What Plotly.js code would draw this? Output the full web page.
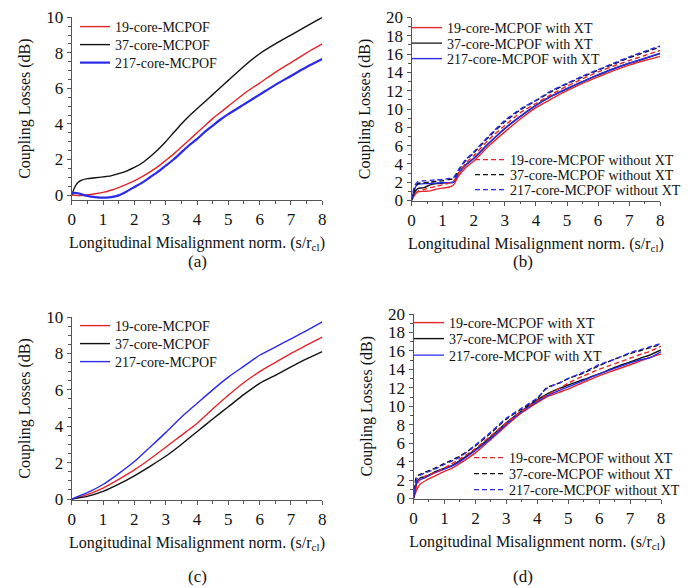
<!DOCTYPE html>
<html>
<head>
<meta charset="utf-8">
<script src="https://cdn.plot.ly/plotly-3.0.1.min.js"></script>
<style>html,body{margin:0;padding:0;background:#fff;}#chart{width:694px;height:588px;}</style>
</head>
<body>
<div id="chart"></div>
<script>
// ---------- Data ----------
// Panel (a)
const xA = [0,0.1,0.2,0.3,0.5,0.75,1,1.25,1.5,1.75,2,2.25,2.5,2.75,3,3.25,3.5,3.75,4,4.25,4.5,4.75,5,5.5,6,6.5,7,7.5,8];
const a19 = [0,-0.01,-0.03,-0.03,0,0.07,0.15,0.27,0.42,0.6,0.8,1.03,1.3,1.6,1.95,2.3,2.7,3.1,3.5,3.9,4.3,4.65,5.0,5.7,6.3,6.9,7.45,8.0,8.5];
const a37 = [0,0.45,0.7,0.82,0.92,0.97,1.02,1.08,1.2,1.35,1.55,1.8,2.15,2.55,3.0,3.5,4.0,4.45,4.85,5.25,5.65,6.05,6.45,7.25,7.95,8.5,9.0,9.5,10.0];
const a217 = [0.1,0.12,0.1,0.05,-0.05,-0.12,-0.15,-0.12,-0.02,0.2,0.45,0.7,1.0,1.3,1.65,2.0,2.4,2.8,3.15,3.55,3.9,4.25,4.55,5.1,5.65,6.2,6.7,7.2,7.65];

// Panel (b)
const xB = [0,0.1,0.2,0.4,0.6,0.8,1.0,1.2,1.35,1.5,1.75,2,2.5,3,3.5,4,4.5,5,5.5,6,6.5,7,7.5,8];
const b19xt = [0,0.6,0.95,1.0,1.05,1.25,1.35,1.45,1.7,2.6,3.6,4.3,6.0,7.5,8.9,10.15,11.1,12.0,12.8,13.5,14.2,14.8,15.3,15.75];
const b37xt = [0,0.9,1.3,1.4,1.7,1.85,1.9,1.95,2.0,2.9,3.9,4.6,6.3,7.85,9.2,10.4,11.4,12.2,13.0,13.7,14.4,15.0,15.5,16.05];
const b217xt = [0,1.3,1.75,1.85,1.85,1.9,1.95,1.95,2.0,2.9,3.9,4.6,6.3,7.9,9.2,10.4,11.4,12.25,13.0,13.75,14.4,15.0,15.55,16.1];
const b19 = [0,0.7,1.0,1.2,1.4,1.55,1.7,1.9,2.1,2.9,4.1,4.9,6.7,8.2,9.6,10.6,11.6,12.5,13.3,14.05,14.7,15.3,15.85,16.4];
const b37 = [0,1.2,1.85,1.95,2.0,2.1,2.15,2.3,2.4,3.2,4.4,5.2,7.0,8.6,9.9,10.9,11.9,12.75,13.5,14.25,14.9,15.6,16.2,16.8];
const b217 = [0,1.6,2.05,2.15,2.2,2.25,2.3,2.4,2.5,3.3,4.5,5.3,7.1,8.75,10.0,10.95,12.0,12.8,13.6,14.3,15.0,15.7,16.3,16.9];

// Panel (c)
const xC = [0,0.5,1,1.5,2,2.5,3,3.5,4,4.5,5,5.5,6,6.5,7,7.5,8];
const c19 = [0,0.25,0.6,1.08,1.6,2.2,2.85,3.5,4.15,4.95,5.7,6.4,7.0,7.5,8.0,8.45,8.9];
const c37 = [0,0.15,0.42,0.82,1.28,1.8,2.35,3.0,3.7,4.4,5.07,5.75,6.35,6.8,7.26,7.7,8.1];
const c217 = [0,0.35,0.8,1.4,2.06,2.85,3.65,4.5,5.25,6.0,6.7,7.3,7.9,8.35,8.8,9.25,9.73];

// Panel (d)
const xD = [0,0.1,0.2,0.4,0.7,1.0,1.2,1.5,2,2.5,3,3.5,4,4.3,4.7,5,5.5,6,6.5,7,7.4,7.6,8];
const d19xt = [0,0.9,1.5,1.95,2.45,2.95,3.2,3.8,4.95,6.4,7.9,9.3,10.4,11.0,11.5,11.85,12.6,13.3,13.9,14.5,15.0,15.25,15.65];
const d37xt = [0,1.6,2.2,2.4,2.9,3.3,3.5,4.1,5.3,6.7,8.2,9.5,10.7,11.3,11.9,12.3,12.9,13.5,14.2,14.8,15.3,15.5,16.1];
const d217xt = [0,1.8,2.0,2.3,2.8,3.2,3.45,4.0,5.2,6.5,8.05,9.4,10.5,11.1,11.7,12.1,12.8,13.5,14.1,14.7,15.1,15.2,15.9];
const d19 = [0,1.3,2.1,2.45,2.8,3.3,3.7,4.3,5.4,6.8,8.2,9.5,10.6,11.2,11.9,12.5,13.3,14.0,14.6,15.2,15.7,15.9,16.5];
const d37 = [0,2.4,2.6,2.9,3.3,3.8,4.1,4.6,5.7,7.1,8.6,9.7,10.8,12.0,12.5,13.0,13.6,14.4,15.1,15.7,16.1,16.3,16.7];
const d217 = [0,2.0,2.5,2.8,3.2,3.7,4.0,4.5,5.8,7.2,8.7,9.8,10.9,11.9,12.5,13.0,13.7,14.5,15.1,15.8,16.2,16.4,16.8];

const names = ['19-core-MCPOF','37-core-MCPOF','217-core-MCPOF'];
const panelLabels = ['(a)','(b)','(c)','(d)'];
const xTitle = 'Longitudinal Misalignment norm. (s/r<sub>cl</sub>)';
const yTitle = 'Coupling Losses (dB)';

// ---------- Styles ----------
const FONT = '"Liberation Serif", "Times New Roman", Times, serif';
const RED = '#e3262b', BLACK = '#111111', BLUE = '#2a2ae8';
const DASH = '5px,3px';
const W = 694, H = 588;
const px = v => v / W, py = v => 1 - v / H;

const legends = {};
let legCount = 0;
function newLegend(xPix, yPix) {
  legCount += 1;
  const key = legCount === 1 ? 'legend' : 'legend' + legCount;
  legends[key] = {
    x: px(xPix), y: py(yPix), xanchor: 'left', yanchor: 'middle',
    bgcolor: 'rgba(0,0,0,0)', borderwidth: 0,
    font: {family: FONT, size: 14, color: '#111'}, itemwidth: 30
  };
  return key;
}

function tr(x, y, name, color, xa, ya, legXY, opts) {
  opts = opts || {};
  return {
    x: x, y: y, name: name, type: 'scatter', mode: 'lines',
    xaxis: xa, yaxis: ya, legend: newLegend(legXY[0], legXY[1]),
    line: {color: color, width: opts.width || 1.4, dash: opts.dash || 'solid', shape: 'spline', smoothing: 0.6}
  };
}

const data = [
  tr(xA, a19, names[0], RED, 'x', 'y', [75, 27]),
  tr(xA, a37, names[1], BLACK, 'x', 'y', [75, 45]),
  tr(xA, a217, names[2], BLUE, 'x', 'y', [75, 63], {width: 2.2}),

  tr(xB, b19xt, names[0] + ' with XT', RED, 'x2', 'y2', [407, 28]),
  tr(xB, b37xt, names[1] + ' with XT', BLACK, 'x2', 'y2', [407, 43.5]),
  tr(xB, b217xt, names[2] + ' with XT', BLUE, 'x2', 'y2', [407, 59]),
  tr(xB, b19, names[0] + ' without XT', RED, 'x2', 'y2', [470, 160], {dash: DASH}),
  tr(xB, b37, names[1] + ' without XT', BLACK, 'x2', 'y2', [470, 175], {dash: DASH}),
  tr(xB, b217, names[2] + ' without XT', BLUE, 'x2', 'y2', [470, 190], {dash: DASH}),

  tr(xC, c19, names[0], RED, 'x3', 'y3', [75, 326]),
  tr(xC, c37, names[1], BLACK, 'x3', 'y3', [75, 344]),
  tr(xC, c217, names[2], BLUE, 'x3', 'y3', [75, 362]),

  tr(xD, d19xt, names[0] + ' with XT', RED, 'x4', 'y4', [409, 323]),
  tr(xD, d37xt, names[1] + ' with XT', BLACK, 'x4', 'y4', [409, 339]),
  tr(xD, d217xt, names[2] + ' with XT', BLUE, 'x4', 'y4', [409, 355.5]),
  tr(xD, d19, names[0] + ' without XT', RED, 'x4', 'y4', [469, 458], {dash: DASH}),
  tr(xD, d37, names[1] + ' without XT', BLACK, 'x4', 'y4', [469, 474], {dash: DASH}),
  tr(xD, d217, names[2] + ' without XT', BLUE, 'x4', 'y4', [469, 490], {dash: DASH})
];

function xax(domain, anchor) {
  return {
    domain: domain, anchor: anchor, range: [0, 8], dtick: 1, tick0: 0,
    showline: true, linecolor: '#555', linewidth: 1, mirror: false,
    ticks: 'outside', ticklen: 4, tickcolor: '#555', tickwidth: 1,
    minor: {ticks: 'outside', ticklen: 2.5, dtick: 0.5, tick0: 0, tickcolor: '#555'},
    showgrid: false, zeroline: false,
    tickfont: {family: FONT, size: 17, color: '#111'},
    title: {text: xTitle, font: {family: FONT, size: 16, color: '#111'}, standoff: 8},
    fixedrange: true
  };
}
function yax(domain, anchor, range, dtick, mdt) {
  return {
    domain: domain, anchor: anchor, range: range, dtick: dtick, tick0: 0,
    showline: true, linecolor: '#555', linewidth: 1,
    ticks: 'outside', ticklen: 4, tickcolor: '#555', tickwidth: 1,
    minor: {ticks: 'outside', ticklen: 2.5, dtick: mdt, tick0: 0, tickcolor: '#555'},
    showgrid: false, zeroline: false,
    tickfont: {family: FONT, size: 17, color: '#111'},
    title: {text: yTitle, font: {family: FONT, size: 16, color: '#111'}, standoff: 11},
    fixedrange: true
  };
}
function lab(text, x, y) {
  return {text: text, x: x, y: y, xref: 'paper', yref: 'paper', showarrow: false,
          xanchor: 'center', yanchor: 'middle', font: {family: FONT, size: 17, color: '#111'}};
}

const layout = Object.assign({
  width: W, height: H,
  margin: {l: 0, r: 0, t: 0, b: 0},
  paper_bgcolor: '#fff', plot_bgcolor: '#fff',
  font: {family: FONT, color: '#111'},
  showlegend: true,
  xaxis: xax([px(71.7), px(322.3)], 'y'),
  yaxis: yax([py(200), py(17.3)], 'x', [-0.28, 10], 2, 0.5),
  xaxis2: xax([px(411.5), px(660.3)], 'y2'),
  yaxis2: yax([py(200.5), py(17.5)], 'x2', [0, 20], 2, 1),
  xaxis3: xax([px(71.7), px(322.3)], 'y3'),
  yaxis3: yax([py(500), py(317)], 'x3', [-0.05, 10], 2, 0.5),
  xaxis4: xax([px(413.5), px(661)], 'y4'),
  yaxis4: yax([py(498.5), py(314)], 'x4', [0, 20], 2, 1),
  annotations: [
    lab(panelLabels[0], px(197), py(261)),
    lab(panelLabels[1], px(523), py(261)),
    lab(panelLabels[2], px(197), py(576)),
    lab(panelLabels[3], px(523), py(576))
  ]
}, legends);

Plotly.newPlot('chart', data, layout, {displayModeBar: false, staticPlot: true});
</script>
</body>
</html>
